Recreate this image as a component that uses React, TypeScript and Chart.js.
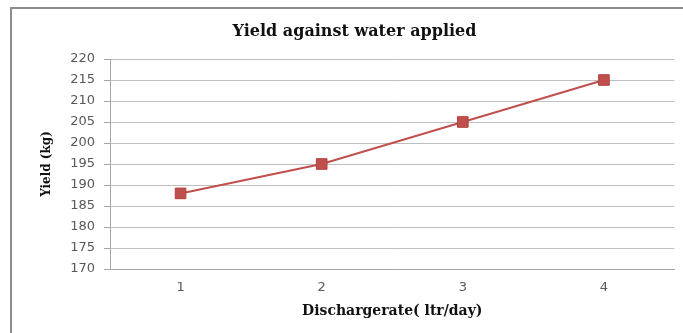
import React, { useEffect, useRef } from "react";
import { Chart, registerables } from "chart.js";

Chart.register(...registerables);

const categories = ["1", "2", "3", "4"];
const yieldValues = [188, 195, 205, 215];
const yMin = 170;
const yMax = 220;
const yStep = 5;

const chartTitle = "Yield against water applied";
const xTitle = "Dischargerate( ltr/day)";
const yTitle = "Yield (kg)";

export default function App() {
  const ref = useRef<HTMLCanvasElement | null>(null);

  useEffect(() => {
    const canvas = ref.current;
    if (!canvas) return;
    const chart = new Chart(canvas, {
      type: "line",
      data: {
        labels: categories,
        datasets: [
          {
            label: "Yield",
            data: yieldValues,
            borderColor: "#C0504D",
            backgroundColor: "#C0504D",
            pointBorderColor: "#B3403D",
            borderWidth: 2,
            pointStyle: "rect",
            pointRadius: 7.5,
            pointBorderWidth: 1,
            tension: 0,
          },
        ],
      },
      options: {
        animation: false,
        responsive: false,
        maintainAspectRatio: false,
        layout: { padding: { left: 32, right: 6, top: 0, bottom: 0 } },
        plugins: {
          legend: { display: false },
          tooltip: { enabled: false },
          title: {
            display: true,
            text: chartTitle,
            color: "#111",
            font: { family: "'DejaVu Serif', serif", size: 16, weight: "bold" },
            padding: { top: 22, bottom: 17.8 },
          },
        },
        scales: {
          x: {
            type: "category",
            offset: true,
            afterFit: (s: any) => {
              s.height = 64;
            },
            grid: { display: false, drawTicks: false },
            border: { display: true, color: "#A6A6A6", width: 1 },
            ticks: {
              color: "#595959",
              font: { family: "'DejaVu Sans', sans-serif", size: 13 },
              padding: 11,
            },
            title: {
              display: true,
              text: xTitle,
              color: "#111",
              font: { family: "'DejaVu Serif', serif", size: 14, weight: "bold" },
              padding: { top: 0, bottom: 13 },
            },
          },
          y: {
            min: yMin,
            max: yMax,
            afterFit: (s: any) => {
              s.width = 78;
            },
            grid: {
              color: "#BFBFBF",
              lineWidth: 1,
              drawTicks: true,
              tickLength: 6,
              tickColor: "#A6A6A6",
            },
            border: { display: true, color: "#A6A6A6", width: 1 },
            ticks: {
              stepSize: yStep,
              color: "#595959",
              font: { family: "'DejaVu Sans', sans-serif", size: 13 },
              padding: 9,
            },
            title: {
              display: true,
              text: yTitle,
              color: "#111",
              font: { family: "'DejaVu Serif', serif", size: 12, weight: "bold" },
              padding: { top: 8, bottom: 0 },
            },
          },
        },
      },
    });
    return () => chart.destroy();
  }, []);

  return (
    <div
      style={{
        position: "absolute",
        left: 0,
        top: 0,
        width: 683,
        height: 333,
        background: "#fff",
        overflow: "hidden",
      }}
    >
      <div
        style={{
          position: "absolute",
          left: 10,
          top: 7,
          width: 700,
          height: 340,
          borderTop: "2px solid #8C8C8C",
          borderLeft: "2px solid #8C8C8C",
        }}
      />
      <canvas
        ref={ref}
        width={683}
        height={333}
        style={{ position: "absolute", left: 0, top: 0, width: 683, height: 333 }}
      />
    </div>
  );
}
